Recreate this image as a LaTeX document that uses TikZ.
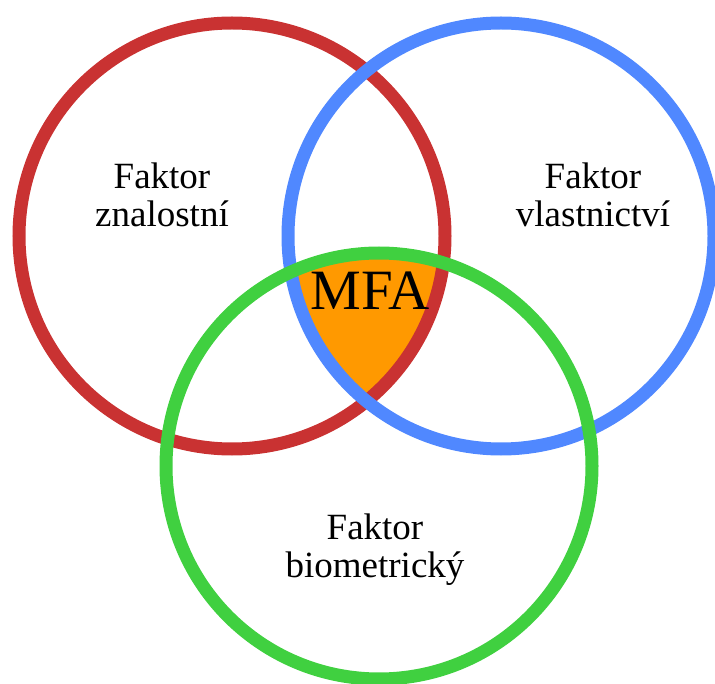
\documentclass[tikz,border=0pt]{standalone}
\usepackage{fontspec}
\setmainfont{Liberation Serif}
\definecolor{vred}{RGB}{201,50,50}
\definecolor{vblue}{RGB}{80,136,255}
\definecolor{vgreen}{RGB}{64,208,64}
\definecolor{vorange}{RGB}{255,153,0}
\begin{document}
\begin{tikzpicture}[x=1pt,y=-1pt,
  ring/.style={line width=13pt},
  lbl/.style={font=\fontsize{37}{38}\selectfont, align=center, inner sep=0pt, anchor=base}]
\useasboundingbox (0,0) rectangle (715,684);
\coordinate (cr) at (232,236);
\coordinate (cb) at (501,236);
\coordinate (cg) at (379,466);
\begin{scope}
  \clip (cr) circle[radius=213];
  \clip (cb) circle[radius=213];
  \fill[vorange] (cg) circle[radius=213];
\end{scope}
\draw[ring, vred] (cr) circle[radius=213];
\draw[ring, vblue] (cb) circle[radius=213];
\draw[ring, vgreen] (cg) circle[radius=213];
\node[lbl] (k) at (162,227) {Faktor\\znalostní};
\node[lbl] (v) at (593,227) {Faktor\\vlastnictví};
\node[lbl] (b) at (375,577) {Faktor\\biometrický};
\node[font=\fontsize{57}{60}\selectfont, inner sep=0pt, anchor=base] (m) at (370,310) {MFA};
\end{tikzpicture}
\end{document}
